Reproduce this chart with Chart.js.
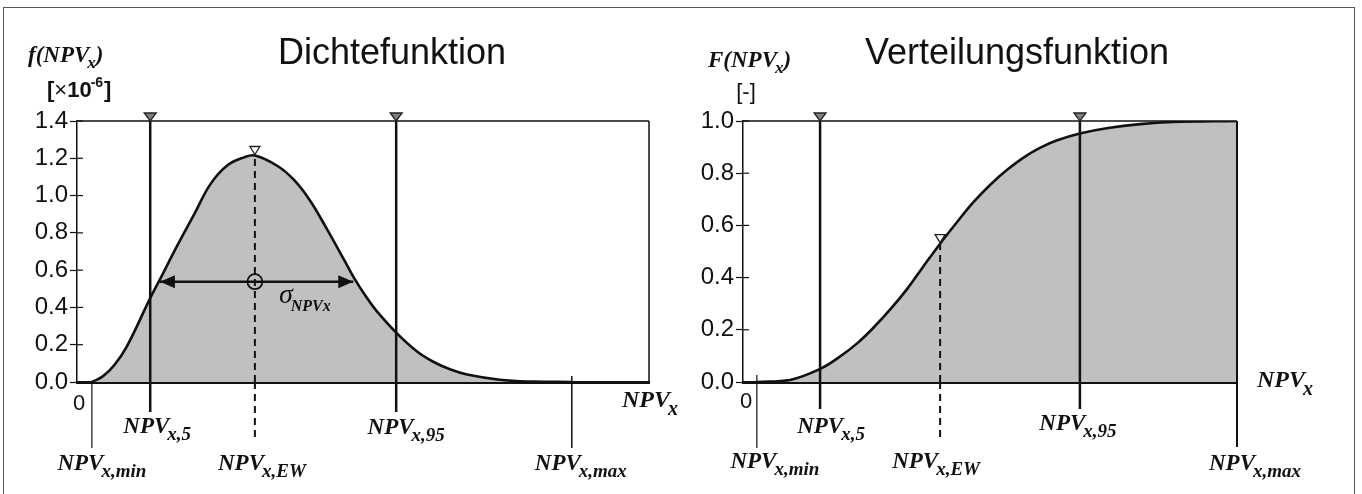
<!DOCTYPE html>
<html>
<head>
<meta charset="utf-8">
<script src="https://cdn.jsdelivr.net/npm/chart.js@4.4.1/dist/chart.umd.min.js"></script>
<style>
  body { margin: 0; background: #fff; }
  #wrap { position: relative; width: 1362px; height: 494px; overflow: hidden; }
  #dens { position: absolute; left: 0; top: 0; }
  #cdf { position: absolute; left: 680px; top: 0; }
  #frame { position: absolute; left: 3px; top: 7px; width: 1350px; height: 500px;
           border: 1.5px solid #555; pointer-events: none; }
</style>
</head>
<body>
<div id="wrap">
  <canvas id="dens" width="680" height="494"></canvas>
  <canvas id="cdf" width="682" height="494"></canvas>
  <div id="frame"></div>
</div>
<script>
// Dichtefunktion f(NPV_x) in 1e-6, x in relative NPV units (0..100)
const densX = [2.6, 4.5, 6.5, 8.7, 12.8, 14.5, 17.5, 20.5, 23.3, 26.2, 29.2, 31.1, 35.0, 37.9, 40.7,
               43.7, 46.7, 48.4, 50.7, 52.4, 55.8, 59.4, 62.2, 65.2, 68.2, 73.9, 79.7, 86.5];
const densY = [0, 0.03, 0.09, 0.19, 0.45, 0.55, 0.73, 0.90, 1.06, 1.16, 1.205, 1.215, 1.16, 1.085, 0.975,
               0.82, 0.655, 0.56, 0.45, 0.38, 0.265, 0.165, 0.11, 0.068, 0.04, 0.012, 0.002, 0];
const densMarks = [2.6, 12.8, 31.1, 55.8, 86.5];   // min, 5 %, EW, 95 %, max
const densYMax = 1.4;
const sigmaSpan = [14.5, 48.3];
const sigmaLevel = 0.538;

// Verteilungsfunktion F(NPV_x)
const cdfX = [2.8, 9.5, 15.8, 19.6, 23.1, 26.3, 29.8, 33.2, 36.4, 39.9, 43.3, 46.6, 50.0, 53.4,
              56.7, 60.1, 63.6, 68.2, 73.9, 80.4, 87.0, 100];
const cdfY = [0, 0.008, 0.052, 0.097, 0.148, 0.206, 0.278, 0.356, 0.440, 0.530, 0.612, 0.688, 0.755,
              0.812, 0.859, 0.897, 0.926, 0.952, 0.973, 0.988, 0.996, 1.0];
const cdfMarks = [2.8, 15.6, 39.9, 68.2, 100];
const cdfYMax = 1.0;

const markSubs = ['x,min', 'x,5', 'x,EW', 'x,95', 'x,max'];

const SANS = '"Liberation Sans", Arial, sans-serif';
const SERIF = '"Liberation Serif", "Times New Roman", serif';
const INK = '#111';

function points(xs, ys) {
  return xs.map((x, i) => ({ x: x, y: ys[i] }));
}

function vline(x, y0, y1, width, dash) {
  return {
    data: [{ x: x, y: y0 }, { x: x, y: y1 }],
    borderColor: INK, borderWidth: width, borderDash: dash || [],
    pointRadius: 0, fill: false, order: 1
  };
}

function subText(ctx, x, base, main, sub, mainFont, subFont, drop, after) {
  ctx.font = mainFont;
  ctx.fillText(main, x, base);
  let w = ctx.measureText(main).width;
  ctx.font = subFont;
  ctx.fillText(sub, x + w - 2, base + drop);
  let w2 = ctx.measureText(sub).width;
  if (after) {
    ctx.font = mainFont;
    ctx.fillText(after, x + w - 2 + w2, base);
  }
}

function npvWidth(ctx, sub) {
  ctx.font = 'bold italic 23px ' + SERIF;
  let w = ctx.measureText('NPV').width - 2;
  ctx.font = 'bold italic 19px ' + SERIF;
  return w + ctx.measureText(sub).width;
}

function downTri(ctx, x, tipY, w, h, fill) {
  ctx.beginPath();
  ctx.moveTo(x - w / 2, tipY - h);
  ctx.lineTo(x + w / 2, tipY - h);
  ctx.lineTo(x, tipY);
  ctx.closePath();
  ctx.fillStyle = fill;
  ctx.fill();
  ctx.setLineDash([]);
  ctx.lineWidth = 1.3;
  ctx.strokeStyle = '#222';
  ctx.stroke();
}

const decorPlugin = {
  id: 'decor',
  afterDraw(chart, args, o) {
    const ctx = chart.ctx;
    const a = chart.chartArea;
    const xs = chart.scales.x;
    const ys = chart.scales.y;
    ctx.save();

    // top and right frame of the plot
    ctx.strokeStyle = INK;
    ctx.lineWidth = 1.5;
    ctx.beginPath();
    ctx.moveTo(a.left, a.top);
    ctx.lineTo(a.right, a.top);
    ctx.stroke();
    ctx.lineWidth = o.rightWidth;
    ctx.beginPath();
    ctx.moveTo(a.right, a.top);
    ctx.lineTo(a.right, a.bottom);
    ctx.stroke();

    // inner half of the y ticks
    ctx.lineWidth = 1.2;
    ys.ticks.forEach(t => {
      const y = ys.getPixelForValue(t.value);
      ctx.beginPath();
      ctx.moveTo(a.left, y);
      ctx.lineTo(a.left + 6, y);
      ctx.stroke();
    });

    // stems below the axis and their labels
    o.marks.forEach((m, i) => {
      const x = xs.getPixelForValue(m);
      const s = o.stems[i];
      ctx.lineWidth = s.w;
      ctx.setLineDash(s.dash ? [7, 5] : []);
      ctx.beginPath();
      ctx.moveTo(x, a.bottom - s.up);
      ctx.lineTo(x, a.bottom + s.down);
      ctx.stroke();
      ctx.setLineDash([]);

      const w = npvWidth(ctx, markSubs[i]);
      ctx.fillStyle = INK;
      ctx.textAlign = 'left';
      ctx.textBaseline = 'alphabetic';
      subText(ctx, x + o.labelDx[i] - w / 2, a.bottom + o.labelDy[i], 'NPV', markSubs[i],
              'bold italic 23px ' + SERIF, 'bold italic 19px ' + SERIF, 7);
    });

    // markers at the top of 5 % / 95 % lines, open marker at EW
    [1, 3].forEach(i => downTri(ctx, xs.getPixelForValue(o.marks[i]), a.top, 12, 8, '#808080'));
    downTri(ctx, xs.getPixelForValue(o.marks[2]), ys.getPixelForValue(o.ewTop) - 1, 10, 8, '#fff');

    // sigma arrow heads and label
    if (o.sigma) {
      const y = ys.getPixelForValue(o.sigma.level);
      const xl = xs.getPixelForValue(o.sigma.span[0]);
      const xr = xs.getPixelForValue(o.sigma.span[1]);
      ctx.fillStyle = INK;
      ctx.beginPath();
      ctx.moveTo(xl, y); ctx.lineTo(xl + 15, y - 6.5); ctx.lineTo(xl + 15, y + 6.5); ctx.closePath();
      ctx.fill();
      ctx.beginPath();
      ctx.moveTo(xr, y); ctx.lineTo(xr - 15, y - 6.5); ctx.lineTo(xr - 15, y + 6.5); ctx.closePath();
      ctx.fill();
      const xc = xs.getPixelForValue(o.marks[2]);
      ctx.textAlign = 'left';
      subText(ctx, xc + 24, y + 21, 'σ', 'NPVx', 'italic 28px ' + SERIF, 'bold italic 16px ' + SERIF, 8);
    }

    // axis annotations
    ctx.fillStyle = INK;
    ctx.textAlign = 'center';
    ctx.font = '22px ' + SANS;
    ctx.fillText('0', o.zero[0], o.zero[1]);
    ctx.textAlign = 'left';
    subText(ctx, o.axisLabel[0], o.axisLabel[1], 'NPV', 'x',
            'bold italic 24px ' + SERIF, 'bold italic 20px ' + SERIF, 8);

    // chart title
    ctx.textAlign = 'center';
    ctx.font = '36px ' + SANS;
    ctx.fillText(o.title[0], o.title[1], o.title[2]);

    // y axis title
    ctx.textAlign = 'left';
    subText(ctx, o.yTitle[1], o.yTitle[2], o.yTitle[0], 'x',
            'bold italic 23px ' + SERIF, 'bold italic 17px ' + SERIF, 6, ')');
    o.drawUnit(ctx);

    ctx.restore();
  }
};

function baseOptions(yMax, pad, decor) {
  return {
    responsive: false,
    animation: false,
    events: [],
    layout: { padding: pad },
    plugins: { legend: { display: false }, tooltip: { enabled: false }, decor: decor },
    scales: {
      x: {
        type: 'linear', min: 0, max: 100, z: 1,
        ticks: { display: false },
        grid: { display: false, drawTicks: false },
        border: { color: INK, width: 3 },
        afterFit(s) { s.height = 0; }
      },
      y: {
        min: 0, max: yMax, z: 1,
        afterFit(s) { s.width = 60; },
        ticks: {
          stepSize: 0.2, color: INK, padding: 2,
          font: { family: SANS, size: 24 },
          callback: v => v.toFixed(1)
        },
        grid: { drawOnChartArea: false, tickLength: 7, color: INK, tickWidth: 1.2 },
        border: { color: INK, width: 1.5 }
      }
    }
  };
}

const ewDens = densY[densX.indexOf(densMarks[2])];
const ewCdf = cdfY[cdfX.indexOf(cdfMarks[2])];

new Chart(document.getElementById('dens'), {
  type: 'line',
  data: {
    datasets: [
      {
        data: points(densX, densY), borderColor: INK, borderWidth: 2.6,
        backgroundColor: '#c0c0c0', fill: 'origin', pointRadius: 0,
        tension: 0.4, order: 10
      },
      vline(densMarks[1], 0, densYMax, 2.5),
      vline(densMarks[2], 0, ewDens, 2, [7, 5]),
      vline(densMarks[3], 0, densYMax, 2.5),
      {
        data: [{ x: sigmaSpan[0], y: sigmaLevel }, { x: sigmaSpan[1], y: sigmaLevel }],
        borderColor: INK, borderWidth: 2.5, pointRadius: 0, fill: false, order: 1
      },
      {
        data: [{ x: densMarks[2], y: sigmaLevel }], showLine: false,
        pointRadius: 7.5, pointBorderWidth: 1.8, pointBorderColor: INK,
        pointBackgroundColor: 'rgba(0,0,0,0)', order: 0
      }
    ]
  },
  options: baseOptions(densYMax, { left: 17, right: 31, top: 121, bottom: 112 }, {
    marks: densMarks,
    ewTop: ewDens,
    rightWidth: 1.5,
    stems: [
      { up: 0, down: 66, w: 1.2 }, { up: 0, down: 30, w: 2.5 }, { up: 0, down: 60, w: 2, dash: true },
      { up: 0, down: 30, w: 2.5 }, { up: 6, down: 66, w: 1.5 }
    ],
    labelDx: [10, 7, 7, 10, 9],
    labelDy: [88, 51, 88, 52, 88],
    sigma: { span: sigmaSpan, level: sigmaLevel },
    zero: [79, 410],
    axisLabel: [622, 407],
    title: ['Dichtefunktion', 392, 64],
    yTitle: ['f(NPV', 28, 62],
    drawUnit(ctx) {
      ctx.font = 'bold 22px ' + SANS;
      ctx.fillText('[', 47, 97);
      let x = 47 + ctx.measureText('[').width;
      ctx.font = '22px ' + SANS;
      ctx.fillText('×', x, 97);
      x += ctx.measureText('×').width;
      ctx.font = 'bold 22px ' + SANS;
      ctx.fillText('10', x, 97);
      x += ctx.measureText('10').width;
      ctx.font = 'bold 14px ' + SANS;
      ctx.fillText('-6', x - 1, 87);
      x += ctx.measureText('-6').width;
      ctx.font = 'bold 22px ' + SANS;
      ctx.fillText(']', x, 97);
    }
  }),
  plugins: [decorPlugin]
});

new Chart(document.getElementById('cdf'), {
  type: 'line',
  data: {
    datasets: [
      {
        data: points(cdfX, cdfY), borderColor: INK, borderWidth: 2.6,
        backgroundColor: '#c0c0c0', fill: 'origin', pointRadius: 0,
        tension: 0.4, order: 10
      },
      vline(cdfMarks[1], 0, cdfYMax, 2.5),
      vline(cdfMarks[2], 0, ewCdf, 2, [7, 5]),
      vline(cdfMarks[3], 0, cdfYMax, 2.5)
    ]
  },
  options: baseOptions(cdfYMax, { left: 3, right: 125, top: 121, bottom: 112 }, {
    marks: cdfMarks,
    ewTop: ewCdf,
    rightWidth: 2,
    stems: [
      { up: 7, down: 66, w: 1.2 }, { up: 0, down: 27, w: 2.5 }, { up: 0, down: 60, w: 2, dash: true },
      { up: 0, down: 27, w: 2.5 }, { up: 0, down: 65, w: 2 }
    ],
    labelDx: [18, 11, -4, -2, 18],
    labelDy: [86, 51, 86, 48, 88],
    sigma: null,
    zero: [66, 408],
    axisLabel: [577, 387],
    title: ['Verteilungsfunktion', 337, 64],
    yTitle: ['F(NPV', 28, 67],
    drawUnit(ctx) {
      ctx.font = '22px ' + SANS;
      ctx.textAlign = 'center';
      ctx.fillText('[-]', 66, 99);
    }
  }),
  plugins: [decorPlugin]
});
</script>
</body>
</html>
